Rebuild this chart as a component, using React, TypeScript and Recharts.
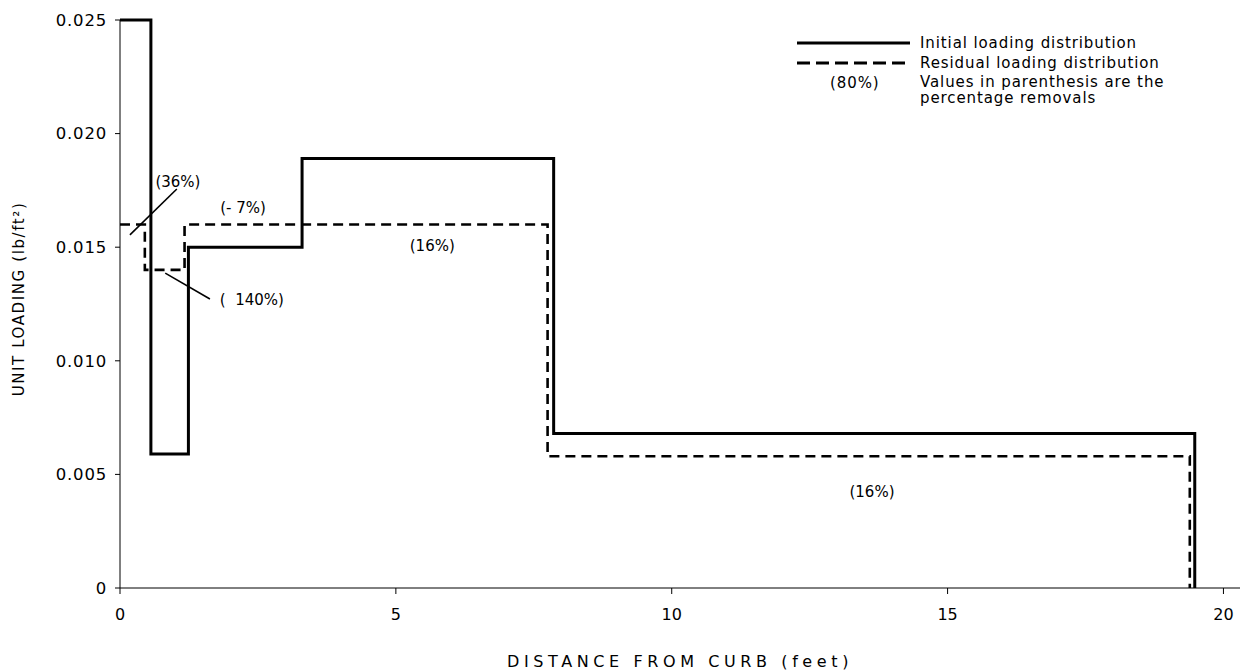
import React from 'react';
import { LineChart, Line, XAxis, YAxis, ReferenceLine, ReferenceDot } from 'recharts';

// Step edges (feet) and unit loading values (lb/ft2)
const initialX = [0, 0.56, 1.24, 3.3, 7.86, 19.48];
const initialY = [0.025, 0.0059, 0.015, 0.0189, 0.0068, 0];
const residualX = [0, 0.45, 1.17, 7.75, 19.39];
const residualY = [0.016, 0.014, 0.016, 0.0058, 0];

const xTicks = [0, 5, 10, 15, 20];
const yTicks = [0, 0.005, 0.01, 0.015, 0.02, 0.025];

// percentage-removal annotations
const notes = [
  { x: 1.05, y: 0.0179, text: '(36%)' },
  { x: 2.23, y: 0.01673, text: '(- 7%)' },
  { x: 2.39, y: 0.01268, text: '(\u00a0\u00a0140%)' },
  { x: 5.66, y: 0.01505, text: '(16%)' },
  { x: 13.63, y: 0.00423, text: '(16%)' },
];
const leaders = [
  [{ x: 1.03, y: 0.01756 }, { x: 0.18, y: 0.01554 }],
  [{ x: 0.82, y: 0.01386 }, { x: 1.63, y: 0.01272 }],
];

const legendItems = ['Initial loading distribution', 'Residual loading distribution'];
const legendNote = ['(80%)', 'Values in parenthesis are the', 'percentage removals'];

const initialData = initialX.map((x, i) => ({ x, y: initialY[i] }));
const residualData = residualX.map((x, i) => ({ x, y: residualY[i] }));

const FONT = '"DejaVu Sans", Verdana, sans-serif';

const LegendBox = () => (
  <div
    style={{
      position: 'absolute',
      left: 796,
      top: 29,
      width: 440,
      height: 90,
      fontFamily: FONT,
      fontSize: 15,
      letterSpacing: 0.9,
      color: '#000',
    }}
  >
    <svg width={120} height={70} style={{ position: 'absolute', left: 0, top: 0 }}>
      <line x1={1} y1={14} x2={114} y2={14} stroke="#000" strokeWidth={3} />
      <line x1={1} y1={34} x2={114} y2={34} stroke="#000" strokeWidth={3} strokeDasharray="13 6" />
    </svg>
    <div style={{ position: 'absolute', left: 124, top: 5, whiteSpace: 'nowrap' }}>{legendItems[0]}</div>
    <div style={{ position: 'absolute', left: 124, top: 25, whiteSpace: 'nowrap' }}>{legendItems[1]}</div>
    <div style={{ position: 'absolute', left: 34, top: 45, whiteSpace: 'nowrap' }}>{legendNote[0]}</div>
    <div style={{ position: 'absolute', left: 124, top: 45, whiteSpace: 'nowrap', lineHeight: '16px' }}>
      {legendNote[1]}
      <br />
      {legendNote[2]}
    </div>
  </div>
);

export default function App() {
  return (
    <div style={{ position: 'absolute', left: 0, top: 0, width: 1240, height: 671, background: '#fff' }}>
      <LineChart width={1240} height={671} margin={{ top: 20, right: 0, bottom: 0, left: 0 }}>
        <XAxis
          type="number"
          dataKey="x"
          domain={[0, 20.3]}
          ticks={xTicks}
          allowDataOverflow
          height={83}
          tickSize={6}
          tickMargin={15}
          stroke="#000"
          tick={{ fill: '#000', fontSize: 16, fontFamily: FONT }}
          label={{
            value: 'DISTANCE FROM CURB (feet)',
            position: 'insideBottom',
            offset: 4,
            fill: '#000',
            fontSize: 16,
            fontFamily: FONT,
            letterSpacing: 4.6,
          }}
        />
        <YAxis
          type="number"
          dataKey="y"
          domain={[0, 0.025]}
          ticks={yTicks}
          width={120}
          tickSize={5}
          tickMargin={8}
          stroke="#000"
          tickFormatter={(v: number) => (v === 0 ? '0' : v.toFixed(3))}
          tick={{ fill: '#000', fontSize: 16.5, fontFamily: FONT, letterSpacing: 0.8 }}
          label={{
            value: 'UNIT LOADING (lb/ft²)',
            angle: -90,
            position: 'insideLeft',
            offset: 19,
            fill: '#000',
            fontSize: 15,
            fontFamily: FONT,
            letterSpacing: 1.6,
            dy: -5,
            style: { textAnchor: 'middle' },
          }}
        />
        <Line
          data={initialData}
          dataKey="y"
          type="stepAfter"
          stroke="#000"
          strokeWidth={3}
          dot={false}
          isAnimationActive={false}
          legendType="none"
        />
        <Line
          data={residualData}
          dataKey="y"
          type="stepAfter"
          stroke="#000"
          strokeWidth={2.6}
          strokeDasharray="10 6"
          dot={false}
          isAnimationActive={false}
          legendType="none"
        />
        {leaders.map((seg, i) => (
          <ReferenceLine key={'l' + i} segment={seg} stroke="#000" strokeWidth={1.6} ifOverflow="visible" />
        ))}
        {notes.map((n, i) => (
          <ReferenceDot
            key={'n' + i}
            x={n.x}
            y={n.y}
            r={0}
            fill="none"
            stroke="none"
            ifOverflow="visible"
            label={{ value: n.text, position: 'center', fill: '#000', fontSize: 15, fontFamily: FONT }}
          />
        ))}
      </LineChart>
      <LegendBox />
    </div>
  );
}
